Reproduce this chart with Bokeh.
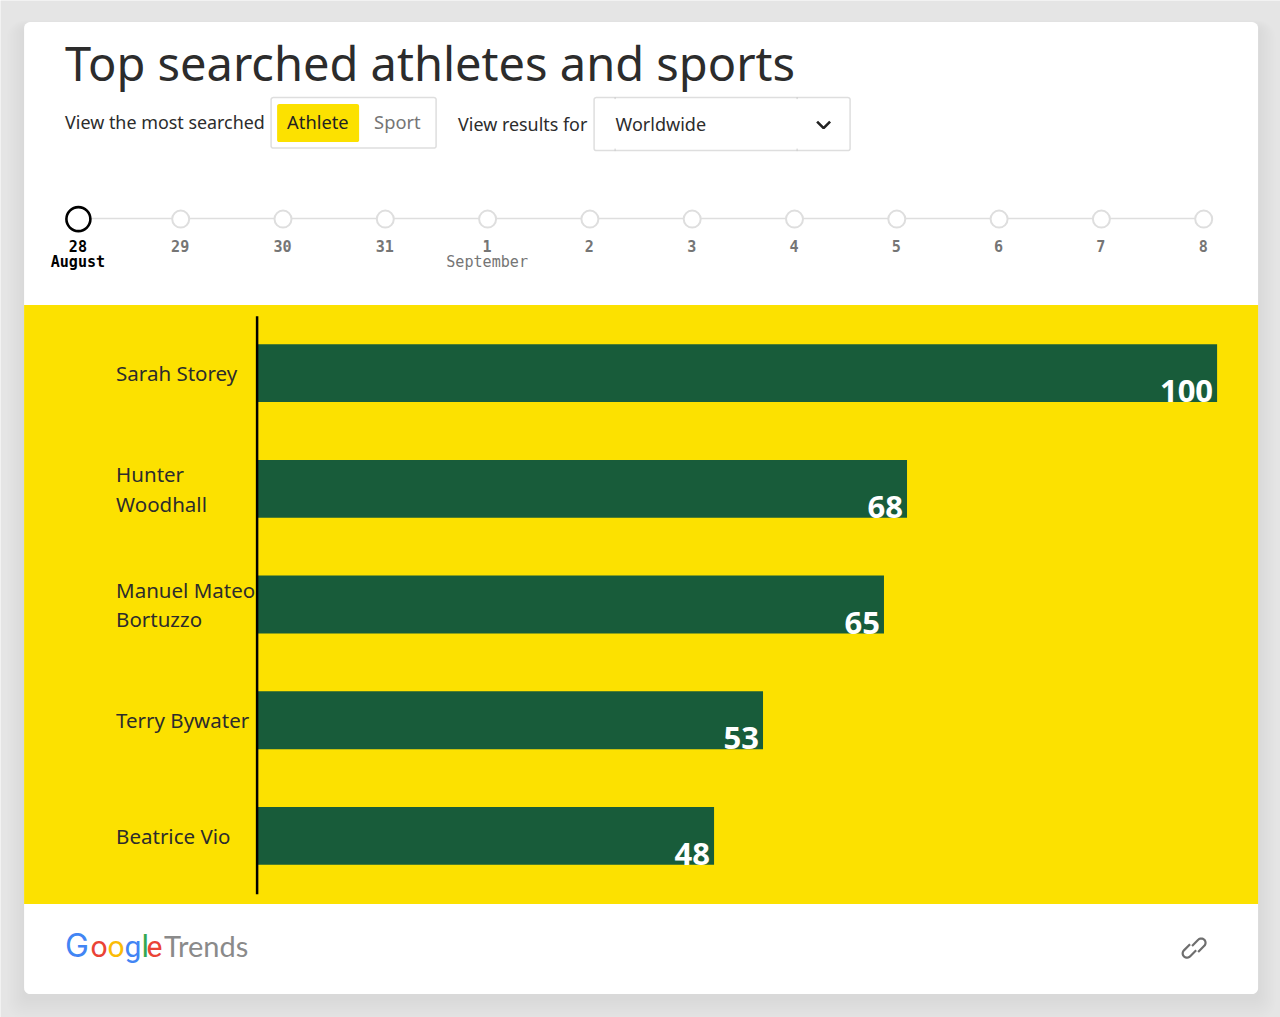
import numpy as np
from bokeh.plotting import figure
from bokeh.models import Range1d
from bokeh.embed import file_html
from bokeh.resources import INLINE
from bokeh.core.properties import value

athletes = ["Sarah Storey", "Hunter\nWoodhall", "Manuel Mateo\nBortuzzo", "Terry Bywater", "Beatrice Vio"]
interest = [100, 67.7, 65.3, 52.7, 47.6]
day_labels = ["28", "29", "30", "31", "1", "2", "3", "4", "5", "6", "7", "8"]
month_labels = {"28": "August", "1": "September"}
title = "Top searched athletes and sports"

BG = "#e5e5e5"
YELLOW = "#fce100"
GREEN = "#185c3a"
INK = "#2c2c2c"
GREY = "#757575"
RULE = "#dedede"
SANS = "Noto Sans"
MONO = "DejaVu Sans Mono"
W, H = 1280, 1017
OFF = 0.4
# distance from the "middle" anchor to the alphabetic baseline, per em
KM = {SANS: 0.39, MONO: 0.27, "Roboto": 0.34, "Lato": 0.39, "Inter": 0.36}

# canvas coordinates follow the page's pixels, y downwards
p = figure(width=W, height=H, x_range=Range1d(OFF, W + OFF), y_range=Range1d(H + OFF, OFF),
           x_axis_location=None, y_axis_location=None, toolbar_location=None,
           output_backend="svg", min_border=0, outline_line_color=None,
           background_fill_color=BG, border_fill_color=BG)
p.grid.visible = False

# value axis: 0 at 257, 100 at 1217
V0, VS = 257.0, 9.6
p.extra_x_ranges["value"] = Range1d((OFF - V0) / VS, (W + OFF - V0) / VS)
# rank axis: first bar centred at 373, step 115.7
R0, RS = 373.0, 115.7
p.extra_y_ranges["rank"] = Range1d((H + OFF - R0) / RS, (OFF - R0) / RS)
# timeline axis
T0, TS = 78.3, 102.3
p.extra_x_ranges["day"] = Range1d((OFF - T0) / TS, (W + OFF - T0) / TS)


def rrect(x0, y0, x1, y1, r, n=8):
    xs, ys = [], []
    for cx, cy, a0 in [(x1 - r, y0 + r, -90), (x1 - r, y1 - r, 0), (x0 + r, y1 - r, 90), (x0 + r, y0 + r, 180)]:
        t = np.radians(np.linspace(a0, a0 + 90, n))
        xs += list(cx + r * np.cos(t))
        ys += list(cy + r * np.sin(t))
    return xs, ys


def box(x0, y0, x1, y1, r=2, fill=None, line=None, lw=1.5, alpha=1.0):
    xs, ys = rrect(x0, y0, x1, y1, r)
    p.patch(xs, ys, fill_color=fill, fill_alpha=alpha if fill else 0,
            line_color=line, line_width=lw)


def txt(x, y, s, size, color=INK, font=SANS, align="left", style="normal"):
    p.text([x], [y - KM[font] * size], text=[s], text_font=value(font), text_font_size=f"{size}px",
           text_color=color, text_align=align, text_baseline="middle", text_font_style=style)


# card shadow and card
for i in range(12, 0, -1):
    box(24 - i * 1.5, 22 - i * 0.6 + 5, 1258 + i * 1.5, 994 + i * 1.8 + 4, 6 + i, fill="#000000", alpha=0.0055)
box(24, 22, 1258, 994, 6, fill="#ffffff")

# header
txt(65, 81, title, 47)
txt(65, 129, "View the most searched", 17.9)
box(271, 97.5, 436, 148, 2, fill="#ffffff", line=RULE)
box(277, 104, 359, 142, 2, fill=YELLOW)
txt(287, 129, "Athlete", 18.3, color="#222222")
txt(374, 129, "Sport", 18.3, color=GREY)
txt(458, 131, "View results for", 17.9)
box(594, 97.5, 850, 150.5, 2, fill="#ffffff", line=RULE)
p.segment([615, 615, 797, 797], [97, 148.5, 97, 148.5], [615, 615, 797, 797], [99, 151, 99, 151], line_color="#cccccc", line_width=1)
txt(615.5, 131, "Worldwide", 18)
p.line([817, 823.5, 830], [121.5, 128, 121.5], line_color="#222222", line_width=2.6)

# timeline
days = np.arange(len(day_labels))
p.line([days[0], days[-1] + 0.01], [218.5, 218.5], x_range_name="day", line_color=RULE, line_width=1.5)
p.scatter(days[1:], [219] * (len(days) - 1), x_range_name="day", size=17, marker="circle",
          fill_color="#ffffff", line_color=RULE, line_width=2)
p.scatter(days[:1], [219], x_range_name="day", size=24, marker="circle",
          fill_color="#ffffff", line_color="#000000", line_width=2.6)
ky = KM[MONO] * 15.1
for i, d in enumerate(day_labels):
    c = "#000000" if i == 0 else GREY
    p.text([i], [249.7 - ky], text=[d], x_range_name="day", text_font=value(MONO), text_font_size="15.1px",
           text_color=c, text_align="center", text_baseline="middle", text_font_style="bold", x_offset=-0.5)
    if d in month_labels:
        p.text([i], [265.7 - ky], text=[month_labels[d]], x_range_name="day", text_font=value(MONO), text_font_size="15.1px",
               text_color=c, text_align="center", text_baseline="middle",
               text_font_style="bold" if i == 0 else "normal", x_offset=-0.5)

# chart panel
p.quad(left=[24], right=[1258], top=[305], bottom=[904], fill_color=YELLOW, line_color=None)
ranks = list(range(len(athletes)))
p.hbar(y=ranks, left=0, right=interest, height=0.5, x_range_name="value", y_range_name="rank",
       fill_color=GREEN, line_color=None)
p.segment([0], [-0.492], [0], [4.505], x_range_name="value", y_range_name="rank",
          line_color="#000000", line_width=2.5)
p.text([116] * len(athletes), ranks, text=athletes, y_range_name="rank", text_font=value(SANS),
       text_font_size="20.5px", text_color=INK, text_align="left", text_baseline="middle",
       text_line_height=1.07, y_offset=0)
p.text(interest, ranks, text=[str(round(v)) for v in interest], x_range_name="value", y_range_name="rank",
       text_font=value(SANS), text_font_size="31px", text_font_style="bold", text_color="#ffffff",
       text_align="right", text_baseline="middle", x_offset=-4, y_offset=18)

# footer
logo = [("G", 65, 32, "#4285F4", "Inter"), ("o", 90.5, 30, "#EA4335", "Roboto"), ("o", 107.5, 30, "#FBBC05", "Roboto"),
        ("g", 124.5, 30, "#4285F4", "Roboto"), ("l", 141.5, 31, "#34A853", "Roboto"), ("e", 146.5, 30, "#EA4335", "Roboto")]
for ch, x, s, c, f in logo:
    txt(x, 957, ch, s, color=c, font=f)
txt(164, 957, "Trends", 29, color="#8a8a8a", font="Lato")


def link(u0, v0):
    a, r = 3.6, 4.3
    t = np.radians(np.linspace(90, -90, 14))
    u = np.r_[-a - 1.5, a + r * np.cos(t), -a - 1.5]
    v = np.r_[r, r * np.sin(t), -r]
    if u0 < 0:
        u, v = -u, -v
    u, v = u + u0, v + v0
    q = np.sqrt(0.5)
    return 1194 + (u + v) * q, 948 + (v - u) * q


for u0, v0 in [(5.2, 1.3), (-5.2, -1.3)]:
    xs, ys = link(u0, v0)
    p.line(xs, ys, line_color="#6e6e6e", line_width=2.2)

html = file_html(p, INLINE)
html = html.replace("<body>", f'<body style="background:{BG}">', 1)
open("out.html", "w").write(html)
